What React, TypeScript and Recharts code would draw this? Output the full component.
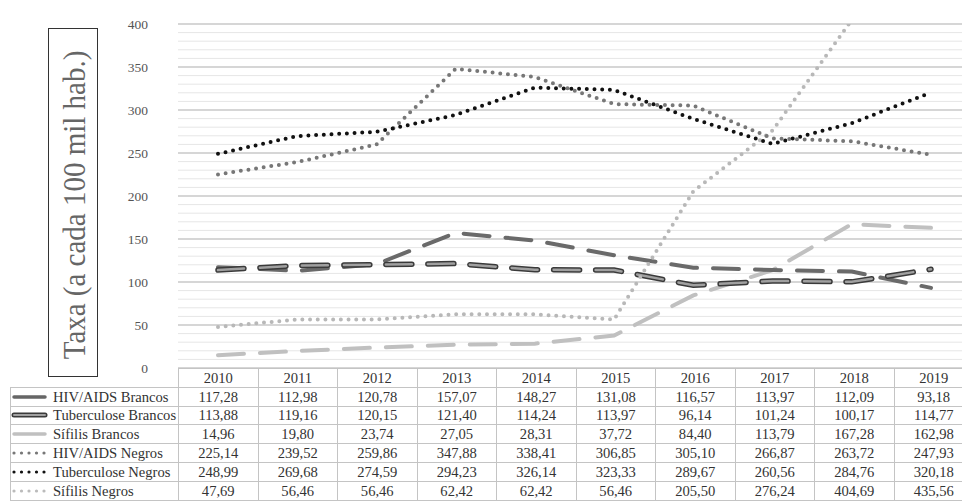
import React from 'react';
import { LineChart, Line, XAxis, YAxis, CartesianGrid, ReferenceLine } from 'recharts';

const years = ['2010', '2011', '2012', '2013', '2014', '2015', '2016', '2017', '2018', '2019'];
const hivBrancos = [117.28, 112.98, 120.78, 157.07, 148.27, 131.08, 116.57, 113.97, 112.09, 93.18];
const tbBrancos = [113.88, 119.16, 120.15, 121.4, 114.24, 113.97, 96.14, 101.24, 100.17, 114.77];
const sifBrancos = [14.96, 19.8, 23.74, 27.05, 28.31, 37.72, 84.4, 113.79, 167.28, 162.98];
const hivNegros = [225.14, 239.52, 259.86, 347.88, 338.41, 306.85, 305.1, 266.87, 263.72, 247.93];
const tbNegros = [248.99, 269.68, 274.59, 294.23, 326.14, 323.33, 289.67, 260.56, 284.76, 320.18];
const sifNegros = [47.69, 56.46, 56.46, 62.42, 62.42, 56.46, 205.5, 276.24, 404.69, 435.56];

const seriesNames = [
  'HIV/AIDS Brancos',
  'Tuberculose Brancos',
  'Sífilis Brancos',
  'HIV/AIDS Negros',
  'Tuberculose Negros',
  'Sífilis Negros',
];
const seriesValues = [hivBrancos, tbBrancos, sifBrancos, hivNegros, tbNegros, sifNegros];

const allTicks = [
  0, 10, 20, 30, 40, 50, 60, 70, 80, 90, 100, 110, 120, 130, 140, 150, 160, 170, 180, 190, 200,
  210, 220, 230, 240, 250, 260, 270, 280, 290, 300, 310, 320, 330, 340, 350, 360, 370, 380, 390, 400,
];
const majorTicks = [0, 50, 100, 150, 200, 250, 300, 350, 400];
const yLabel = 'Taxa (a cada 100 mil hab.)';

const data = years.map((y, i) => ({
  year: y,
  hivB: hivBrancos[i],
  tbB: tbBrancos[i],
  sifB: sifBrancos[i],
  hivN: hivNegros[i],
  tbN: tbNegros[i],
  sifN: sifNegros[i],
}));

const FONT = '"Liberation Serif", "Times New Roman", serif';
const DASH = '26 16';
const DOT = '0 7.7';

const YTick = (props: any) => {
  const { y, payload } = props;
  if (payload.value % 50 !== 0) return <g />;
  return (
    <text x={148} y={y} dy={4.5} textAnchor="end" fill="#555" fontSize={13.5} fontFamily={FONT}>
      {payload.value}
    </text>
  );
};

const LegendIcon = ({ idx }: { idx: number }) => {
  const y = 6;
  return (
    <svg width={40} height={12} style={{ display: 'block' }}>
      {idx === 0 && <line x1={3} x2={34} y1={y} y2={y} stroke="#666" strokeWidth={3.5} strokeLinecap="round" />}
      {idx === 1 && (
        <g>
          <line x1={3} x2={34} y1={y} y2={y} stroke="#3a3a3a" strokeWidth={5} strokeLinecap="round" />
          <line x1={3} x2={34} y1={y} y2={y} stroke="#a0a0a0" strokeWidth={2} strokeLinecap="round" />
        </g>
      )}
      {idx === 2 && <line x1={3} x2={34} y1={y} y2={y} stroke="#c0c0c0" strokeWidth={3.5} strokeLinecap="round" />}
      {idx >= 3 && (
        <line
          x1={3}
          x2={38}
          y1={y}
          y2={y}
          stroke={idx === 3 ? '#777' : idx === 4 ? '#111' : '#bbb'}
          strokeWidth={3.2}
          strokeDasharray="0 7.5"
          strokeLinecap="round"
        />
      )}
    </svg>
  );
};

const fmt = (v: number) => v.toFixed(2).replace('.', ',');

const cellBorder = '1px solid #c4c4c4';
const cellBase: React.CSSProperties = { padding: 0, border: cellBorder, lineHeight: '16px', height: 18.8, boxSizing: 'border-box' };

export default function App() {
  return (
    <div style={{ position: 'absolute', left: 0, top: 0, width: 962, height: 501, overflow: 'hidden', background: '#fff' }}>
      <LineChart width={962} height={501} data={data} margin={{ top: 24, right: 0, bottom: 133, left: 0 }}>
        <CartesianGrid vertical={false} stroke="#e6e6e6" strokeWidth={1} />
        <XAxis dataKey="year" hide padding={{ left: 40, right: 31 }} />
        <YAxis
          type="number"
          domain={[0, 400]}
          ticks={allTicks}
          interval={0}
          allowDataOverflow
          width={178}
          axisLine={false}
          tickLine={false}
          tick={<YTick />}
        />
        {majorTicks.map((t) => (
          <ReferenceLine key={t} y={t} stroke="#cdcdcd" strokeWidth={1.5} />
        ))}
        <Line dataKey="sifB" stroke="#c0c0c0" strokeWidth={4} strokeDasharray={DASH} strokeLinecap="round" dot={false} activeDot={false} isAnimationActive={false} />
        <Line dataKey="hivB" stroke="#6a6a6a" strokeWidth={4} strokeDasharray={DASH} strokeLinecap="round" dot={false} activeDot={false} isAnimationActive={false} />
        <Line dataKey="tbB" stroke="#3a3a3a" strokeWidth={5.5} strokeDasharray={DASH} strokeLinecap="round" dot={false} activeDot={false} isAnimationActive={false} />
        <Line dataKey="tbB" stroke="#a0a0a0" strokeWidth={2.5} strokeDasharray={DASH} strokeLinecap="round" dot={false} activeDot={false} isAnimationActive={false} />
        <Line dataKey="sifN" stroke="#b8b8b8" strokeWidth={4} strokeDasharray={DOT} strokeLinecap="round" dot={false} activeDot={false} isAnimationActive={false} />
        <Line dataKey="hivN" stroke="#777" strokeWidth={4} strokeDasharray={DOT} strokeLinecap="round" dot={false} activeDot={false} isAnimationActive={false} />
        <Line dataKey="tbN" stroke="#111" strokeWidth={4} strokeDasharray={DOT} strokeLinecap="round" dot={false} activeDot={false} isAnimationActive={false} />
      </LineChart>

      <svg width={100} height={400} style={{ position: 'absolute', left: 0, top: 0 }}>
        <rect x={48.5} y={28.5} width={49} height={348} fill="none" stroke="#333" strokeWidth={1} />
        <text
          transform="translate(85,205) rotate(-90) scale(1,1.1)"
          textAnchor="middle"
          fill="#666"
          fontSize={29}
          fontFamily={FONT}
        >
          {yLabel}
        </text>
      </svg>

      <table
        style={{
          position: 'absolute',
          left: 10,
          top: 368,
          borderCollapse: 'collapse',
          tableLayout: 'fixed',
          width: 168 + 79.5 * 10,
          fontFamily: FONT,
          fontSize: 14.6,
          color: '#333',
        }}
      >
        <colgroup>
          <col style={{ width: 168 }} />
          {years.map((y) => (
            <col key={y} style={{ width: 79.5 }} />
          ))}
        </colgroup>
        <tbody>
          <tr>
            <td style={{ ...cellBase, border: 'none', borderBottom: cellBorder }} />
            {years.map((y) => (
              <td key={y} style={{ ...cellBase, textAlign: 'center' }}>
                {y}
              </td>
            ))}
          </tr>
          {seriesNames.map((name, i) => (
            <tr key={name}>
              <td style={{ ...cellBase, whiteSpace: 'nowrap' }}>
                <div style={{ display: 'flex', alignItems: 'center' }}>
                  <LegendIcon idx={i} />
                  <span style={{ marginLeft: 2 }}>{name}</span>
                </div>
              </td>
              {seriesValues[i].map((v, j) => (
                <td key={j} style={{ ...cellBase, textAlign: 'center' }}>
                  {fmt(v)}
                </td>
              ))}
            </tr>
          ))}
        </tbody>
      </table>
    </div>
  );
}
